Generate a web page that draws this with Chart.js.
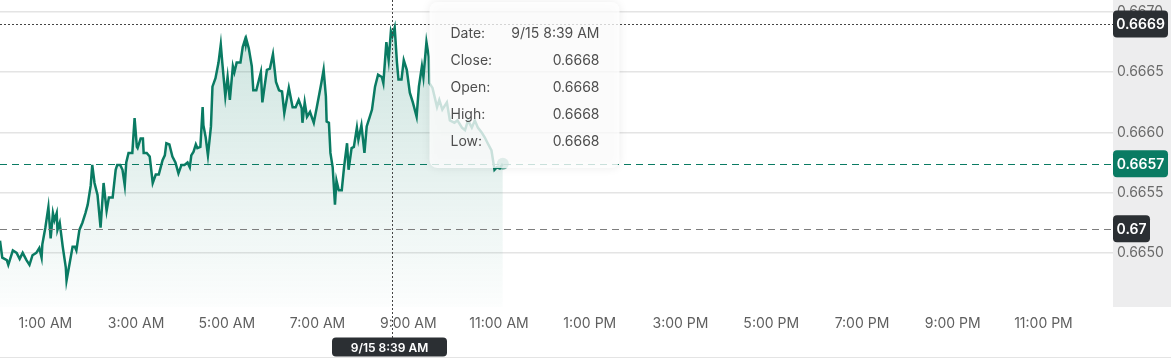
<!DOCTYPE html>
<html>
<head>
<meta charset="utf-8">
<script src="https://cdn.jsdelivr.net/npm/chart.js@4/dist/chart.umd.min.js"></script>
<style>
  html, body { margin: 0; padding: 0; background: #fff; }
  .wrap { width: 1171px; height: 357px; border-bottom: 1px solid #e4e4e4; }
</style>
</head>
<body>
<div class="wrap"><canvas id="fxChart" width="1171" height="357"></canvas></div>
<script>
// minutes since midnight, 9/15
const minutes = [
  0, 3, 9, 11, 17, 22, 26, 30, 35, 39, 43, 48, 52, 55, 56, 60, 64, 67, 70, 72,
  75, 76, 79, 83, 87, 88, 92, 96, 99, 101, 105, 109, 113, 116, 120, 122, 125, 129, 133, 137,
  141, 144, 149, 153, 155, 159, 162, 165, 167, 170, 175, 178, 181, 182, 186, 189, 190, 194, 198, 202,
  206, 210, 215, 218, 220, 224, 228, 232, 236, 240, 244, 248, 251, 253, 256, 259, 261, 265, 268, 269,
  272, 275, 279, 281, 285, 289, 292, 294, 298, 301, 304, 308, 310, 313, 318, 321, 324, 325, 326, 329,
  333, 335, 339, 345, 347, 353, 357, 361, 365, 369, 373, 376, 382, 387, 391, 395, 399, 400, 403, 406,
  410, 415, 419, 425, 428, 431, 432, 435, 437, 440, 443, 445, 448, 452, 455, 459, 461, 465, 468, 472,
  474, 478, 482, 485, 489, 492, 496, 500, 505, 507, 511, 514, 517, 519, 522, 525, 527, 531, 534, 538,
  542, 546, 551, 554, 558, 560, 564, 567, 568, 572, 578, 581, 585, 591, 595, 601, 605, 611, 615, 619,
  624, 628, 632, 637, 641, 645, 650, 652, 654, 657, 661, 665,
];
const closes = [
  0.66510, 0.66496, 0.66494, 0.66490, 0.66502, 0.66500, 0.66495, 0.66500, 0.66494, 0.66490,
  0.66498, 0.66500, 0.66504, 0.66496, 0.66507, 0.66521, 0.66538, 0.66512, 0.66533, 0.66527,
  0.66533, 0.66519, 0.66525, 0.66505, 0.66488, 0.66477, 0.66491, 0.66505, 0.66505, 0.66502,
  0.66519, 0.66525, 0.66533, 0.66540, 0.66556, 0.66573, 0.66558, 0.66548, 0.66521, 0.66558,
  0.66535, 0.66546, 0.66546, 0.66569, 0.66573, 0.66573, 0.66569, 0.66556, 0.66575, 0.66583,
  0.66583, 0.66612, 0.66588, 0.66587, 0.66595, 0.66595, 0.66583, 0.66583, 0.66580, 0.66558,
  0.66565, 0.66565, 0.66577, 0.66581, 0.66591, 0.66590, 0.66580, 0.66575, 0.66566, 0.66573,
  0.66573, 0.66575, 0.66571, 0.66581, 0.66584, 0.66590, 0.66587, 0.66588, 0.66621, 0.66606,
  0.66596, 0.66581, 0.66605, 0.66638, 0.66645, 0.66658, 0.66673, 0.66658, 0.66630, 0.66646,
  0.66627, 0.66655, 0.66650, 0.66658, 0.66658, 0.66671, 0.66677, 0.66673, 0.66677, 0.66670,
  0.66655, 0.66635, 0.66635, 0.66650, 0.66625, 0.66652, 0.66653, 0.66665, 0.66642, 0.66635,
  0.66634, 0.66616, 0.66637, 0.66621, 0.66621, 0.66627, 0.66620, 0.66608, 0.66625, 0.66613,
  0.66617, 0.66608, 0.66621, 0.66641, 0.66652, 0.66630, 0.66609, 0.66608, 0.66583, 0.66571,
  0.66540, 0.66560, 0.66552, 0.66552, 0.66571, 0.66591, 0.66569, 0.66587, 0.66588, 0.66604,
  0.66594, 0.66606, 0.66583, 0.66605, 0.66613, 0.66619, 0.66638, 0.66648, 0.66646, 0.66641,
  0.66675, 0.66660, 0.66684, 0.66680, 0.66687, 0.66658, 0.66644, 0.66644, 0.66660, 0.66652,
  0.66633, 0.66625, 0.66613, 0.66638, 0.66655, 0.66646, 0.66675, 0.66663, 0.66641, 0.66637,
  0.66621, 0.66627, 0.66619, 0.66625, 0.66610, 0.66608, 0.66610, 0.66604, 0.66602, 0.66610,
  0.66604, 0.66610, 0.66604, 0.66600, 0.66596, 0.66591, 0.66585, 0.66577, 0.66569, 0.66571,
  0.66570, 0.66574,
];

const xTickMinutes = [60, 180, 300, 420, 540, 660, 780, 900, 1020, 1140, 1260, 1380];
const xTickLabels = ["1:00 AM", "3:00 AM", "5:00 AM", "7:00 AM", "9:00 AM", "11:00 AM",
  "1:00 PM", "3:00 PM", "5:00 PM", "7:00 PM", "9:00 PM", "11:00 PM"];
const yTicks = [0.6650, 0.6655, 0.6660, 0.6665, 0.6670];

const sessionDate = "9/15";
const hoverMinute = 519;
const crossValue = 0.6669;
const prevClose = 0.6652;

const GREEN = "#0a7b63";
const DARK = "#2b2f33";

function clock(min) {
  const h = Math.floor(min / 60) % 24;
  const m = String(min % 60).padStart(2, "0");
  return `${h % 12 || 12}:${m} ${h < 12 ? "AM" : "PM"}`;
}

function badge(ctx, text, x, y, fill, opts = {}) {
  ctx.save();
  ctx.font = opts.font || "600 14px Inter";
  const w = opts.width || ctx.measureText(text).width + 10;
  const h = opts.height || 27;
  const left = opts.center ? x - w / 2 : x;
  ctx.fillStyle = fill;
  ctx.beginPath();
  ctx.roundRect(left, y - h / 2, w, h, 4);
  ctx.fill();
  ctx.fillStyle = "#fff";
  ctx.textBaseline = "middle";
  ctx.textAlign = "center";
  ctx.fillText(text, left + w / 2, y + 1);
  ctx.restore();
}

function hLine(ctx, area, y, color, dash) {
  ctx.save();
  ctx.strokeStyle = color;
  ctx.lineWidth = 1;
  ctx.setLineDash(dash);
  ctx.beginPath();
  ctx.moveTo(area.left, Math.round(y) + 0.5);
  ctx.lineTo(area.right, Math.round(y) + 0.5);
  ctx.stroke();
  ctx.restore();
}

const overlayPlugin = {
  id: "overlay",
  afterDraw(chart) {
    const { ctx, chartArea: area, scales } = chart;
    const last = closes[closes.length - 1];
    const idx = minutes.indexOf(hoverMinute);
    const hoverClose = closes[idx];
    const hx = Math.round(scales.x.getPixelForValue(hoverMinute)) + 0.5;

    hLine(ctx, area, scales.y.getPixelForValue(last), GREEN, [7, 5]);
    hLine(ctx, area, scales.y.getPixelForValue(prevClose), "#7d7d7d", [7, 5]);
    hLine(ctx, area, scales.y.getPixelForValue(crossValue), "#444", [2, 2]);

    // vertical crosshair
    ctx.save();
    ctx.strokeStyle = "#444";
    ctx.setLineDash([2, 2]);
    ctx.beginPath();
    ctx.moveTo(hx, 0);
    ctx.lineTo(hx, 340);
    ctx.stroke();
    ctx.restore();

    // tooltip box
    const tx = hx + 37, ty = 2, tw = 190, th = 166;
    ctx.save();
    ctx.shadowColor = "rgba(0,0,0,0.10)";
    ctx.shadowBlur = 10;
    ctx.fillStyle = "rgba(255,255,255,0.78)";
    ctx.beginPath();
    ctx.roundRect(tx, ty, tw, th, 8);
    ctx.fill();
    ctx.restore();

    const v = hoverClose.toFixed(4);
    const rows = [
      ["Date:", `${sessionDate} ${clock(hoverMinute)}`],
      ["Close:", v], ["Open:", v], ["High:", v], ["Low:", v],
    ];
    ctx.save();
    ctx.font = "14px Inter";
    ctx.fillStyle = "#4e4e4e";
    ctx.textBaseline = "middle";
    rows.forEach(([label, value], i) => {
      const y = ty + 32 + i * 27;
      ctx.textAlign = "left";
      ctx.fillText(label, tx + 21, y);
      ctx.textAlign = "right";
      ctx.fillText(value, tx + 170, y);
    });
    ctx.restore();

    // axis badges
    const bx = area.right;
    badge(ctx, crossValue.toFixed(4), bx, scales.y.getPixelForValue(crossValue), DARK, { width: 55 });
    badge(ctx, last.toFixed(4), bx, scales.y.getPixelForValue(last), GREEN, { width: 55 });
    badge(ctx, prevClose.toFixed(2), bx, scales.y.getPixelForValue(prevClose), DARK, { width: 37 });
    badge(ctx, `${sessionDate} ${clock(hoverMinute)}`, hx - 3, 347, DARK,
      { center: true, width: 115, height: 19, font: "600 12px Inter" });
  },
};

const chart = new Chart(document.getElementById("fxChart"), {
  type: "line",
  data: {
    datasets: [
      {
        data: minutes.map((m, i) => ({ x: m, y: closes[i] })),
        borderColor: GREEN,
        borderWidth: 2.5,
        tension: 0,
        fill: "start",
        backgroundColor: (c) => {
          const area = c.chart.chartArea;
          if (!area) return "rgba(10,123,99,0.12)";
          const g = c.chart.ctx.createLinearGradient(0, area.top, 0, area.bottom);
          g.addColorStop(0, "rgba(10,123,99,0.22)");
          g.addColorStop(1, "rgba(10,123,99,0.01)");
          return g;
        },
        pointRadius: (c) => (c.dataIndex === closes.length - 1 ? 6 : 0),
        pointBackgroundColor: "rgba(10,123,99,0.55)",
        pointBorderWidth: 0,
        clip: false,
      },
    ],
  },
  options: {
    responsive: false,
    animation: false,
    layout: { padding: 0, autoPadding: false },
    plugins: { legend: { display: false }, tooltip: { enabled: false } },
    scales: {
      x: {
        type: "linear",
        min: 0,
        max: 1472,
        grid: { display: false, drawTicks: false },
        border: { display: false },
        afterBuildTicks: (s) => { s.ticks = xTickMinutes.map((v) => ({ value: v })); },
        afterFit: (s) => { s.height = 50; s.paddingLeft = 0; s.paddingRight = 0; },
        ticks: {
          color: "#5f5f5f",
          font: { family: "Inter", size: 14 },
          padding: 8,
          maxRotation: 0,
          autoSkip: false,
          callback: (v) => xTickLabels[xTickMinutes.indexOf(v)],
        },
      },
      y: {
        position: "right",
        min: 0.66455,
        max: 0.66710,
        backgroundColor: "#ededee",
        grid: { color: "#e4e4e4", lineWidth: 1.5, drawTicks: false },
        border: { display: false },
        afterBuildTicks: (s) => { s.ticks = yTicks.map((v) => ({ value: v })); },
        afterFit: (s) => { s.width = 58; s.paddingTop = 0; s.paddingBottom = 0; },
        ticks: {
          color: "#6a6a6a",
          font: { family: "Inter", size: 14 },
          padding: 4,
          callback: (v) => v.toFixed(4),
        },
      },
    },
  },
  plugins: [overlayPlugin],
});
</script>
</body>
</html>
